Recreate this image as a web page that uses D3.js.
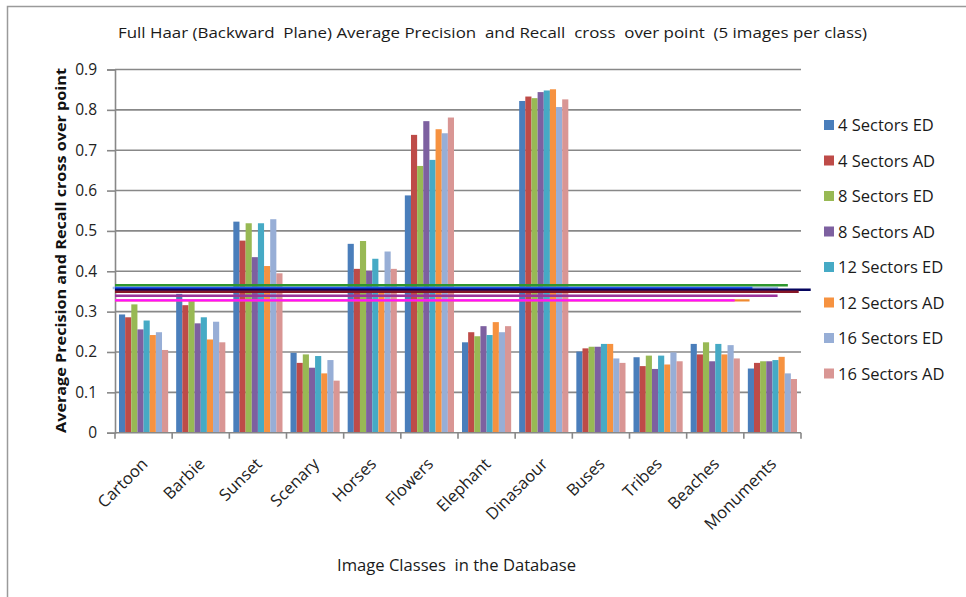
<!DOCTYPE html>
<html><head><meta charset="utf-8">
<script src="https://cdn.jsdelivr.net/npm/d3@7"></script>
<style>
html,body{margin:0;padding:0;background:#fff;}
svg{display:block;font-family:"Open Sans","Noto Sans",sans-serif;}
</style></head>
<body>
<svg id="c" width="966" height="597"></svg>
<script>
const categories = ["Cartoon","Barbie","Sunset","Scenary","Horses","Flowers","Elephant","Dinasaour","Buses","Tribes","Beaches","Monuments"];
const seriesNames = ["4 Sectors ED","4 Sectors AD","8 Sectors ED","8 Sectors AD","12 Sectors ED","12 Sectors AD","16 Sectors ED","16 Sectors AD"];
const s4ED  = [0.293,0.344,0.523,0.198,0.468,0.588,0.224,0.822,0.201,0.187,0.220,0.159];
const s4AD  = [0.286,0.316,0.476,0.173,0.406,0.738,0.249,0.833,0.209,0.165,0.194,0.173];
const s8ED  = [0.318,0.326,0.519,0.194,0.475,0.661,0.239,0.829,0.213,0.191,0.224,0.177];
const s8AD  = [0.256,0.271,0.435,0.161,0.401,0.772,0.264,0.844,0.213,0.158,0.177,0.177];
const s12ED = [0.278,0.286,0.519,0.190,0.431,0.676,0.242,0.848,0.220,0.191,0.220,0.180];
const s12AD = [0.242,0.231,0.413,0.147,0.355,0.752,0.274,0.851,0.220,0.169,0.194,0.188];
const s16ED = [0.249,0.275,0.529,0.180,0.449,0.742,0.249,0.807,0.184,0.199,0.217,0.147];
const s16AD = [0.205,0.224,0.395,0.129,0.406,0.781,0.264,0.826,0.173,0.177,0.184,0.133];
const seriesValues = [s4ED,s4AD,s8ED,s8AD,s12ED,s12AD,s16ED,s16AD];
const yTicks = [0,0.1,0.2,0.3,0.4,0.5,0.6,0.7,0.8,0.9];
// horizontal reference lines (value, start/end in category units)
const lineValues = [0.3585,0.328,0.3652,0.3585,0.3541,0.3494,0.3395,0.328];
const lineStart  = [-0.04,0,0,0,0,0,0,0];
const lineEnd    = [11.6,11.10,11.77,11.15,12.17,11.96,11.59,10.84];

const barColors = ["#4A7EBB","#BE4B48","#98B954","#7D60A0","#46AAC5","#F69240","#97AED6","#D99694"];
const lineColors = ["#9FBAE8","#F08A30","#2E962E","#1A55F0","#05055E","#861628","#9B339B","#FF10FF"];

const svg = d3.select("#c");
const L=115, R=801, T=69.5, B=432.7;

svg.append("rect").attr("x",7.5).attr("y",6.5).attr("width",980).attr("height",600)
  .attr("fill","#fff").attr("stroke","#9a9a9a").attr("stroke-width",1.5);

const x = d3.scaleBand().domain(categories).range([L,R]).paddingInner(0.14).paddingOuter(0.07);
const xs = d3.scaleBand().domain(seriesNames).range([0,x.bandwidth()]);
const xc = d3.scaleLinear().domain([0,categories.length]).range([L,R]);
const y = d3.scaleLinear().domain([0,0.9]).range([B,T]);

// gridlines
svg.append("g").selectAll("line").data(yTicks.filter(d=>d>0)).join("line")
  .attr("x1",L).attr("x2",R).attr("y1",d=>y(d)).attr("y2",d=>y(d))
  .attr("stroke","#888").attr("stroke-width",1.6);

// bars
const g = svg.append("g");
seriesValues.forEach((vals,si)=>{
  g.append("g").selectAll("rect").data(vals).join("rect")
    .attr("x",(d,i)=>x(categories[i])+xs(seriesNames[si]))
    .attr("width",xs.bandwidth())
    .attr("y",d=>y(d)).attr("height",d=>B-y(d))
    .attr("fill",barColors[si]);
});

// y axis
const ya = svg.append("g").attr("transform",`translate(${L},0)`)
  .call(d3.axisLeft(y).tickValues(yTicks).tickSize(8).tickPadding(10)
    .tickFormat(d=>d===0?"0":d3.format(".1f")(d)));
ya.select(".domain").attr("stroke","#888").attr("stroke-width",1.6);
ya.selectAll(".tick line").attr("stroke","#888").attr("stroke-width",1.6);
ya.selectAll(".tick text").attr("font-size",15.5).attr("fill","#222")
  .attr("font-family","'Open Sans',sans-serif");

// x axis
svg.append("line").attr("x1",L).attr("x2",R).attr("y1",B).attr("y2",B)
  .attr("stroke","#888").attr("stroke-width",1.6);
const bounds = d3.range(categories.length+1);
svg.append("g").selectAll("line").data(bounds).join("line")
  .attr("x1",d=>xc(d)).attr("x2",d=>xc(d)).attr("y1",B).attr("y2",B+6)
  .attr("stroke","#888").attr("stroke-width",1.6);
svg.append("g").selectAll("text").data(categories).join("text")
  .attr("transform",d=>`translate(${x(d)+x.bandwidth()/2+5},465) rotate(-45)`)
  .attr("text-anchor","end").attr("font-size",16.5).attr("fill","#222")
  .text(d=>d);

// reference lines
svg.append("g").selectAll("line").data(lineValues).join("line")
  .attr("x1",(d,i)=>xc(lineStart[i])).attr("x2",(d,i)=>xc(lineEnd[i]))
  .attr("y1",d=>y(d)).attr("y2",d=>y(d))
  .attr("stroke",(d,i)=>lineColors[i]).attr("stroke-width",2.4);

// title
svg.append("text").attr("x",118).attr("y",38).attr("font-size",15).attr("fill","#1a1a1a")
  .attr("textLength",749).attr("lengthAdjust","spacingAndGlyphs")
  .style("white-space","pre")
  .text("Full Haar (Backward  Plane) Average Precision  and Recall  cross  over point  (5 images per class)");

// y title
svg.append("text").attr("transform","translate(66,433) rotate(-90)")
  .attr("font-size",15).attr("font-weight","bold").attr("fill","#111")
  .attr("textLength",365).attr("lengthAdjust","spacingAndGlyphs")
  .text("Average Precision and Recall cross over point");

// x title
svg.append("text").attr("x",337).attr("y",571).attr("font-size",15.5).attr("fill","#1a1a1a")
  .attr("textLength",239).attr("lengthAdjust","spacingAndGlyphs")
  .style("white-space","pre")
  .text("Image Classes  in the Database");

// legend
const lg = svg.append("g").selectAll("g").data(seriesNames).join("g")
  .attr("transform",(d,i)=>`translate(824,${125+i*35.5})`);
lg.append("rect").attr("x",0).attr("y",-5).attr("width",10).attr("height",10)
  .attr("fill",(d,i)=>barColors[i]);
lg.append("text").attr("x",14).attr("y",6).attr("font-size",16.5).attr("fill","#1a1a1a")
  .text(d=>d);
</script>
</body></html>
